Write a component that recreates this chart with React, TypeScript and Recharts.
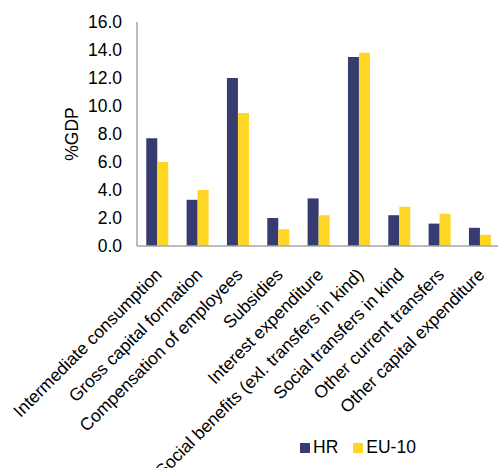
import React from 'react';
import { BarChart, Bar, XAxis, YAxis, Legend } from 'recharts';

const categories = [
  'Intermediate consumption',
  'Gross capital formation',
  'Compensation of employees',
  'Subsidies',
  'Interest expenditure',
  'Social benefits (exl. transfers in kind)',
  'Social transfers in kind',
  'Other current transfers',
  'Other capital expenditure',
];
const hrValues = [7.7, 3.3, 12.0, 2.0, 3.4, 13.5, 2.2, 1.6, 1.3];
const euValues = [6.0, 4.0, 9.5, 1.2, 2.2, 13.8, 2.8, 2.3, 0.8];
const yTicks = [0, 2, 4, 6, 8, 10, 12, 14, 16];
const seriesNames = ['HR', 'EU-10'];

const data = categories.map((name, i) => ({ name, HR: hrValues[i], EU: euValues[i] }));

const FONT = '"Liberation Sans", Arial, sans-serif';
const FS = 17.5;

const LegendContent = (props: any) => {
  const payload = [...(props.payload || [])].sort(
    (a: any, b: any) => seriesNames.indexOf(a.value) - seriesNames.indexOf(b.value)
  );
  return (
    <div style={{ display: 'flex', alignItems: 'center', fontFamily: FONT, fontSize: FS, color: '#000' }}>
      {payload.map((p: any, i: number) => (
        <div key={i} style={{ display: 'flex', alignItems: 'center', marginRight: i === 0 ? 15 : 0 }}>
          <span style={{ display: 'inline-block', width: 10, height: 10, background: p.color, marginRight: 3 }} />
          <span>{p.value}</span>
        </div>
      ))}
    </div>
  );
};

export default function App() {
  return (
    <div style={{ position: 'absolute', left: 0, top: 0, width: 498, height: 468, overflow: 'hidden', background: '#fff' }}>
      <BarChart
        width={500}
        height={468}
        data={data}
        margin={{ top: 22, right: 0, left: 0, bottom: 0 }}
        barGap={0}
        barCategoryGap="23%"
      >
        <XAxis
          dataKey="name"
          interval={0}
          height={222}
          axisLine={{ stroke: '#A6A6A6', strokeWidth: 1.5 }}
          tickLine={false}
          tickSize={12}
          tickMargin={9}
          angle={-45}
          textAnchor="end"
          tick={{ fill: '#000', fontSize: FS, fontFamily: FONT, dx: -3 }}
        />
        <YAxis
          width={137}
          domain={[0, 16]}
          ticks={yTicks}
          interval={0}
          tickFormatter={(v: number) => v.toFixed(1)}
          axisLine={{ stroke: '#A6A6A6', strokeWidth: 1.5 }}
          tickLine={false}
          tickSize={8}
          tickMargin={7}
          tick={{ fill: '#000', fontSize: FS, fontFamily: FONT }}
          label={{ value: '%GDP', angle: -90, position: 'center', dx: 3, fill: '#000', fontSize: FS, fontFamily: FONT }}
        />
        <Legend
          layout="horizontal"
          verticalAlign="middle"
          align="center"
          content={<LegendContent />}
          wrapperStyle={{ left: 300, top: 437, width: 'auto' }}
        />
        <Bar dataKey="HR" name="HR" fill="#363B70" isAnimationActive={false} />
        <Bar dataKey="EU" name="EU-10" fill="#FFD624" isAnimationActive={false} />
      </BarChart>
    </div>
  );
}
